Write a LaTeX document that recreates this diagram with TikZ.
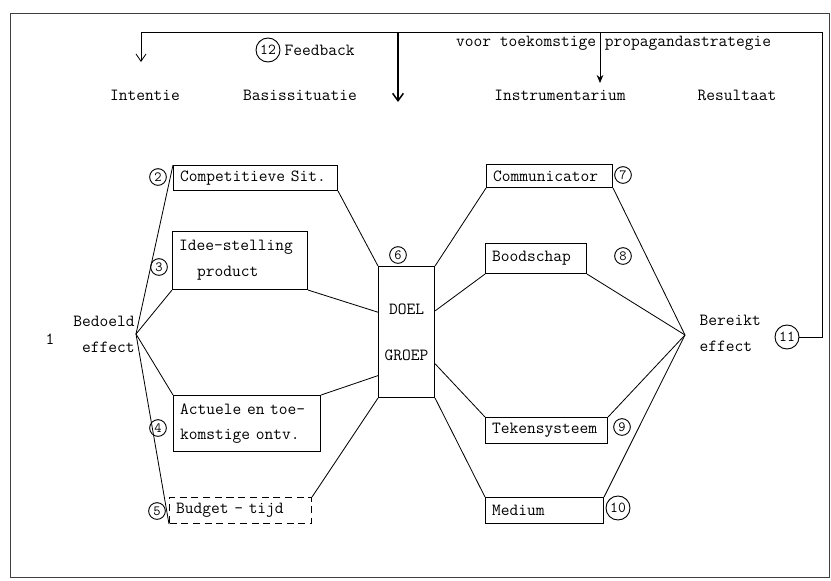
\documentclass[tikz,border=0pt]{standalone}
\usepackage{fontspec}
\usetikzlibrary{positioning}
\usetikzlibrary{arrows,arrows.meta,shapes}
\usetikzlibrary{calc}

\begin{document}
\begin{tikzpicture}
    [x=0.03cm, y=-0.03cm,
    font=\ttfamily\fontsize{14.5}{22}\selectfont,
    box/.style={draw, line width=0.9pt, anchor=north west, align=left, inner xsep=0.2cm, inner ysep=0pt},
    num/.style={draw, circle, line width=0.8pt, inner sep=0pt, minimum size=0.5cm, font=\ttfamily\fontsize{12}{12}\selectfont},
    bignum/.style={num, minimum size=0.72cm, font=\ttfamily\fontsize{13}{13}\selectfont},
    link/.style={line width=0.7pt}]

    \useasboundingbox (0,0) rectangle (831,580);
    \draw [line width=0.6pt, black!75] (10,13) rectangle (829,577);

    % headings
    \node (int) at (145,95) {Intentie};
    \node (bas) at (300,95) {Basissituatie};
    \node (ins) at (560,95) {Instrumentarium};
    \node (res) at (737,95) {Resultaat};
    \node [anchor=west] (voor) at (452,43) {voor toekomstige propagandastrategie};

    \node [bignum] (c12) at (268,50) {12};
    \node [right=0pt of c12] (fb) {Feedback};

    %\node [] (een) at (50,339) {1};
    \node (een) at (50,339) {1};

    % left side
    \coordinate (bed) at (136,334);
    \node [anchor=east, align=right, inner xsep=1pt] (bedtxt) at (bed) {Bedoeld\\effect};

    \node [box, text width=4.52cm, minimum height=0.75cm] (comp) at (173,165) {Competitieve Sit.};
    \node [box, text width=3.65cm, minimum height=1.74cm] (idee) at (172,231) {Idee-stelling\\\hspace*{1.05em}product};
    \node [box, text width=4.01cm, minimum height=1.68cm] (act) at (173,395) {Actuele en toe-\\komstige ontv.};
    \node [box, dashed, dash pattern=on 6pt off 4pt, text width=3.86cm, minimum height=0.78cm] (bud) at (169,497) {Budget - tijd};

    \node [num] (c2) at (158,177) {2};
    \node [num] (c3) at (159,267) {3};
    \node [num] (c4) at (158,428) {4};
    \node [num] (c5) at (157,511) {5};

    % doelgroep
    \node [box, align=center, inner xsep=0.1cm, text width=1.48cm, minimum height=3.93cm] (doel) at (378,266) {DOEL\\[6mm]GROEP};
    \node [num] (c6) at (398,255) {6};

    % right side
    \node [box, text width=3.38cm, minimum height=0.69cm] (comm) at (486,164) {Communicator};
    \node [box, text width=2.63cm, minimum height=0.9cm] (bood) at (485,243) {Boodschap};
    \node [box, text width=3.26cm, minimum height=0.78cm] (tek) at (485,417) {Tekensysteem};
    \node [box, text width=3.14cm, minimum height=0.78cm] (med) at (485,497) {Medium};

    \node [num] (c7) at (623,175) {7};
    \node [num] (c8) at (623,256) {8};
    \node [num] (c9) at (622,427) {9};
    \node [bignum] (c10) at (618,508) {10};

    \coordinate (ber) at (685,335);
    \node [anchor=west, align=left, inner xsep=2pt] (bertxt) at (697,333) {Bereikt\\effect};
    \node [bignum] (c11) at (787,337) {11};

    % connectors left
    \draw [link] (bed) -- (comp.north west);
    \draw [link] (bed) -- (idee.south west);
    \draw [link] (bed) -- (act.north west);
    \draw [link] (bed) -- (bud.south west);

    \draw [link] (comp.south east) -- (doel.north west);
    \draw [link] (idee.south east) -- ($(doel.north west)!0.35!(doel.south west)$);
    \draw [link] (act.north east) -- ($(doel.north west)!0.83!(doel.south west)$);
    \draw [link] (bud.north east) -- (doel.south west);

    % connectors right
    \draw [link] (doel.north east) -- (comm.south west);
    \draw [link] ($(doel.north east)!0.34!(doel.south east)$) -- (bood.south west);
    \draw [link] ($(doel.north east)!0.74!(doel.south east)$) -- (tek.north west);
    \draw [link] (doel.south east) -- (med.north west);

    \draw [link] (comm.south east) -- (ber);
    \draw [link] (bood.south east) -- (ber);
    \draw [link] (tek.north east) -- (ber);
    \draw [link] (med.north east) -- (ber);

    % feedback loop
    \coordinate (fbR) at (822,32);
    \coordinate (fbL) at (141,32);
    \coordinate (fbLend) at (141,62);
    \coordinate (fbM) at (398,32);
    \coordinate (fbMend) at (398,102);
    \coordinate (fbI) at (600,32);
    \coordinate (fbIend) at (600,83);

    \draw [link, arrows = {-Straight Barb[length=2.2mm, width=3mm]}] (c11.east) -| (fbR) -- (fbL) -- (fbLend);
    \draw [arrows = {-Straight Barb[length=2.2mm, width=3.2mm]}, line width=1.3pt] (fbM) -- (fbMend);
    \draw [link, arrows = {-Stealth[length=2.4mm, width=2mm]}] (fbI) -- (fbIend);
\end{tikzpicture}
\end{document}
